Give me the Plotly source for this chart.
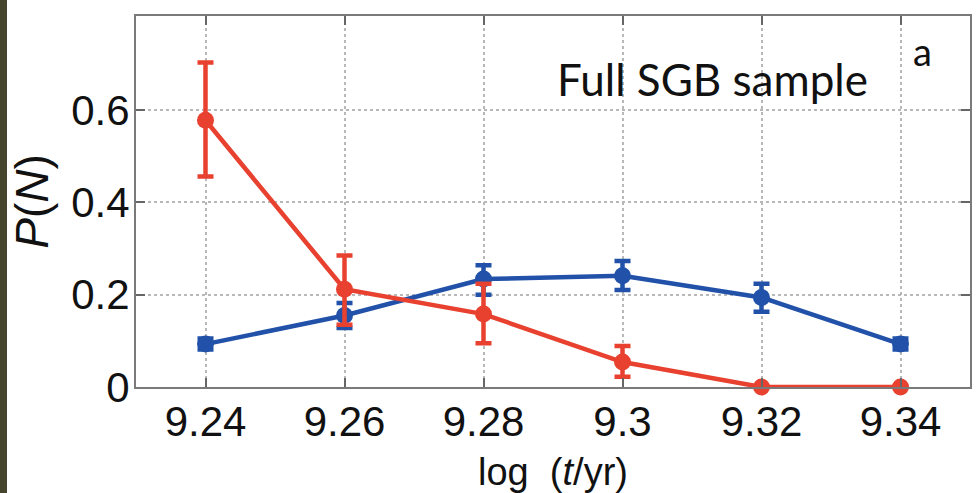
import plotly.graph_objects as go

# Age bins, log(t/yr)
log_age = [9.24, 9.26, 9.28, 9.30, 9.32, 9.34]
x_ticks = [9.24, 9.26, 9.28, 9.30, 9.32, 9.34]
x_tick_text = ["9.24", "9.26", "9.28", "9.3", "9.32", "9.34"]
y_ticks = [0, 0.2, 0.4, 0.6]
y_tick_text = ["0", "0.2", "0.4", "0.6"]

# Red series: P(N) with asymmetric uncertainties
red_p = [0.578, 0.212, 0.158, 0.054, 0.0, 0.0]
red_err_plus = [0.125, 0.073, 0.066, 0.035, 0.0, 0.0]
red_err_minus = [0.122, 0.077, 0.063, 0.032, 0.0, 0.0]

# Blue series
blue_p = [0.093, 0.155, 0.234, 0.241, 0.194, 0.093]
blue_err_plus = [0.012, 0.027, 0.030, 0.032, 0.030, 0.012]
blue_err_minus = [0.012, 0.027, 0.034, 0.031, 0.031, 0.012]

RED = "#E8412F"
BLUE = "#2151A8"

fig = go.Figure()
fig.add_trace(go.Scatter(
    x=log_age, y=blue_p, mode="lines+markers",
    line=dict(color=BLUE, width=4.5),
    marker=dict(color=BLUE, size=17),
    error_y=dict(type="data", symmetric=False, array=blue_err_plus,
                 arrayminus=blue_err_minus, color=BLUE, thickness=4.5, width=8),
    showlegend=False,
))
fig.add_trace(go.Scatter(
    x=log_age, y=red_p, mode="lines+markers",
    line=dict(color=RED, width=4.5),
    marker=dict(color=RED, size=17),
    error_y=dict(type="data", symmetric=False, array=red_err_plus,
                 arrayminus=red_err_minus, color=RED, thickness=4.5, width=8),
    showlegend=False,
    cliponaxis=False,
))

axis_common = dict(
    showline=True, linecolor="#7a7a7a", linewidth=2, mirror="ticks",
    ticks="inside", ticklen=9, tickwidth=2, tickcolor="#666666",
    showgrid=True, gridcolor="#b8b8b8", griddash="dot", gridwidth=1.5,
    zeroline=False, automargin=False,
    tickfont=dict(family="Liberation Sans, Arial", size=42, color="#111111"),
)

fig.update_xaxes(
    range=[9.23, 9.35], tickvals=x_ticks, ticktext=x_tick_text,
    ticklabelstandoff=-3,
    title=dict(text="log&nbsp;&nbsp;(<i>t</i>/yr)", standoff=14,
               font=dict(family="Liberation Sans, Arial", size=38, color="#111111")),
    **axis_common,
)
fig.update_yaxes(
    range=[0, 0.804], tickvals=y_ticks, ticktext=y_tick_text,
    ticklabelstandoff=-4,
    title=dict(text="<i>P</i>(<i>N</i>)", standoff=8,
               font=dict(family="Liberation Sans, Arial", size=46, color="#111111")),
    **axis_common,
)

fig.update_layout(
    width=978, height=493,
    margin=dict(l=136, r=8, t=16, b=106),
    paper_bgcolor="white", plot_bgcolor="white",
    annotations=[
        dict(text="Full SGB sample", x=0.691, y=0.83, xref="paper", yref="paper",
             showarrow=False, xanchor="center", yanchor="middle",
             font=dict(family="Lato, Open Sans", size=44, color="#111111")),
        dict(text="a", x=0.943, y=0.905, xref="paper", yref="paper",
             showarrow=False, xanchor="center", yanchor="middle",
             font=dict(family="Lato, Open Sans", size=38, color="#111111")),
    ],
    shapes=[
        dict(type="rect", xref="paper", yref="paper",
             x0=-136 / 834, x1=-129 / 834, y0=-106 / 371, y1=1 + 16 / 371,
             fillcolor="#45442c", line=dict(width=0), layer="below"),
    ],
)

fig.write_html("out.html")
